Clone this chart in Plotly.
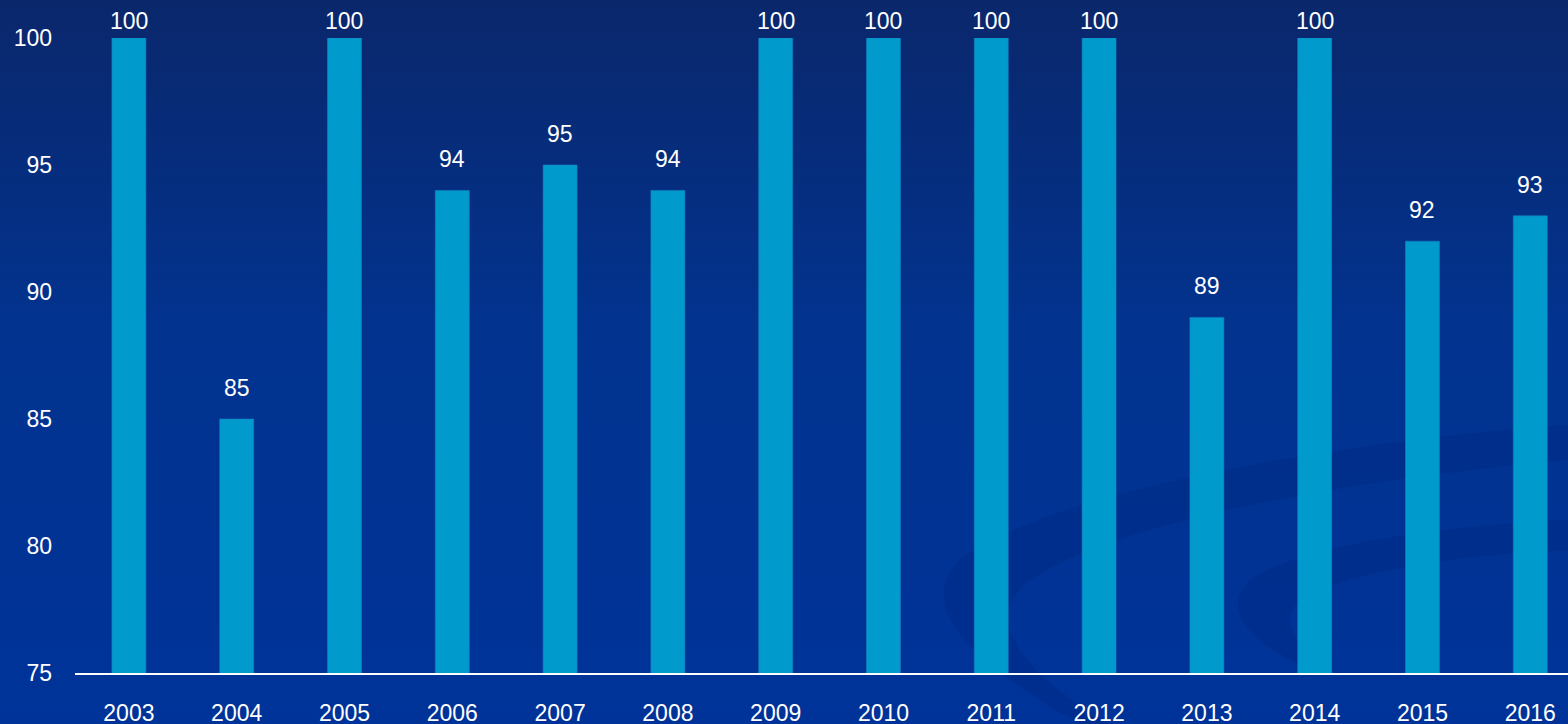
import base64
import plotly.graph_objects as go

years = ["2003", "2004", "2005", "2006", "2007", "2008", "2009",
         "2010", "2011", "2012", "2013", "2014", "2015", "2016"]
values = [100, 85, 100, 94, 95, 94, 100, 100, 100, 100, 89, 100, 92, 93]
y_ticks = [75, 80, 85, 90, 95, 100]

W, H = 1568, 724
ML, MR, MT, MB = 75, 0, 38, 51
PW, PH = W - ML - MR, H - MT - MB

svg = f"""<svg xmlns='http://www.w3.org/2000/svg' width='{W}' height='{H}' viewBox='0 0 {W} {H}' preserveAspectRatio='none'>
<defs><linearGradient id='g' x1='0' y1='0' x2='0' y2='1'>
<stop offset='0' stop-color='#0a276b'/>
<stop offset='0.45' stop-color='#02338f'/>
<stop offset='1' stop-color='#003399'/>
</linearGradient></defs>
<rect x='0' y='0' width='{W}' height='{H}' fill='url(#g)'/>
<path d='M 1568,425 C 1350,440 1050,490 960,560 C 920,600 950,650 1080,724 L 1110,724 C 1000,660 990,610 1030,580 C 1120,520 1350,480 1568,460 Z' fill='rgba(0,28,110,0.2)'/>
<path d='M 1568,520 C 1450,525 1300,545 1250,580 C 1220,610 1250,640 1300,665 L 1330,665 C 1290,640 1280,620 1300,600 C 1350,570 1460,555 1568,550 Z' fill='rgba(0,28,110,0.2)'/>
</svg>"""
src = "data:image/svg+xml;base64," + base64.b64encode(svg.encode()).decode()

fig = go.Figure()
fig.add_trace(go.Bar(
    x=years, y=values, width=0.315,
    marker=dict(color="#009ACD", line=dict(color="#1780c0", width=0.6)),
    hoverinfo="skip",
))

ymax = max(y_ticks)
for i, v in enumerate(values):
    fig.add_annotation(
        x=i, y=v, xref="x", yref="y", text=str(v), showarrow=False,
        yanchor="middle", yshift=17 if v >= ymax else 31,
        font=dict(family="Liberation Sans, Arial, sans-serif", size=23, color="white"),
    )

fig.update_layout(
    width=W, height=H,
    margin=dict(l=ML, r=MR, t=MT, b=MB, pad=0, autoexpand=False),
    paper_bgcolor="#003399",
    plot_bgcolor="rgba(0,0,0,0)",
    showlegend=False,
    font=dict(family="Liberation Sans, Arial, sans-serif", size=23, color="white"),
    images=[dict(
        source=src, xref="paper", yref="paper",
        x=-ML / PW, y=1 + MT / PH, sizex=W / PW, sizey=H / PH,
        xanchor="left", yanchor="top", sizing="stretch", layer="below",
    )],
    xaxis=dict(
        type="category", range=[-0.5, 13.35], showgrid=False,
        showline=True, linecolor="white", linewidth=2, automargin=False,
        ticks="", ticklabelstandoff=18, zeroline=False,
    ),
    yaxis=dict(
        range=[75, 100], tickvals=y_ticks, showgrid=False, zeroline=False,
        showline=False, ticks="", ticklabelstandoff=22, automargin=False,
    ),
)

fig.write_html(
    "out.html",
    config={"displayModeBar": False},
    post_script="document.body.style.margin='0';document.body.style.overflow='hidden';",
)
